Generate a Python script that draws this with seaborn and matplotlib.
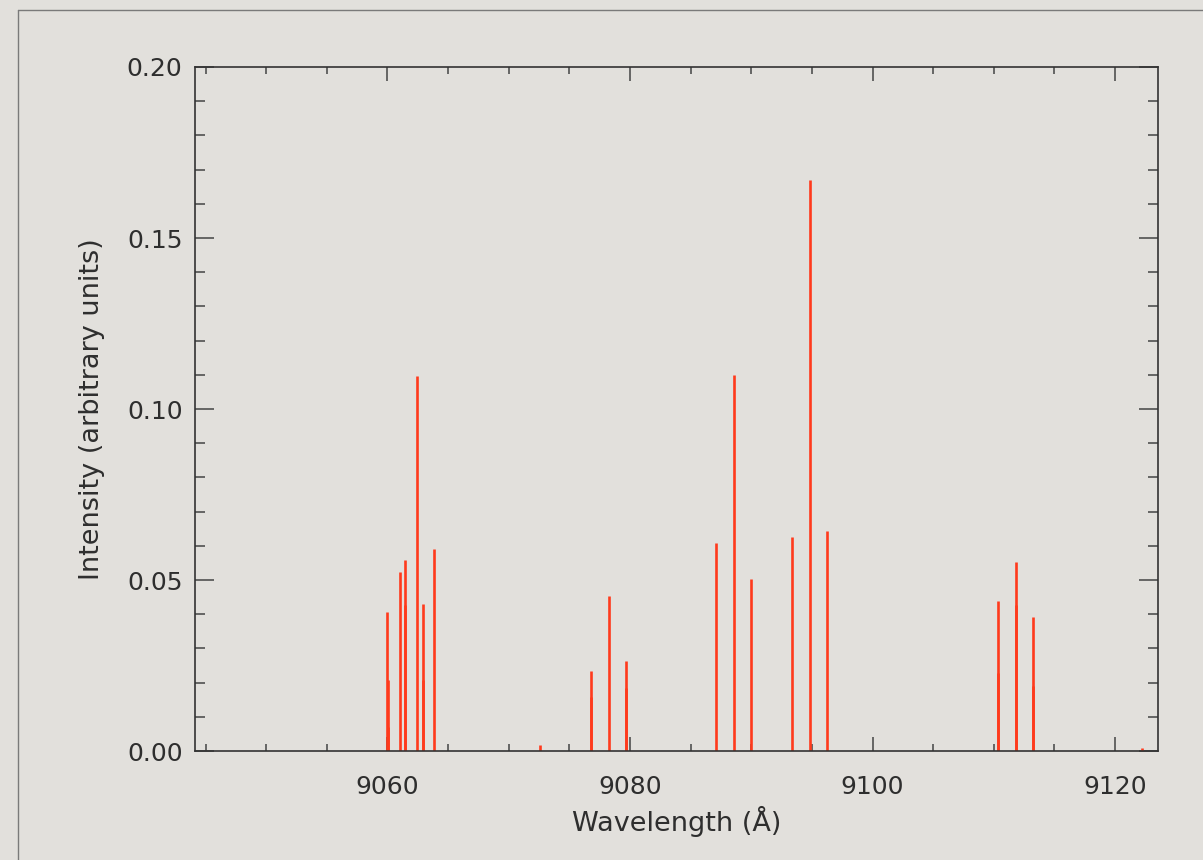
import numpy as np
import pandas as pd
import matplotlib
matplotlib.use('Agg')
import matplotlib.pyplot as plt
from matplotlib.ticker import MultipleLocator
from matplotlib.lines import Line2D
import seaborn as sns

# line list (wavelength in A, intensity in arbitrary units)
# blended lines appear as two entries with nearly the same wavelength
wavelength = [9060.00, 9060.03, 9060.05,
              9061.07,
              9061.45, 9061.48,
              9062.47,
              9062.90, 9062.93,
              9063.86,
              9072.58,
              9076.80, 9076.77,
              9078.24,
              9079.67, 9079.70,
              9087.09, 9088.55, 9089.95, 9093.36, 9094.85, 9096.25,
              9110.35, 9110.32,
              9111.81, 9111.84,
              9113.26, 9113.23,
              9122.20]
intensity = [0.0406, 0.0207, 0.0070,
             0.0523,
             0.0558, 0.0427,
             0.1097,
             0.0430, 0.0208,
             0.0590,
             0.0018,
             0.0235, 0.0159,
             0.0454,
             0.0264, 0.0184,
             0.0607, 0.1098, 0.0502, 0.0626, 0.1670, 0.0643,
             0.0440, 0.0228,
             0.0553, 0.0427,
             0.0393, 0.0191,
             0.0008]

x_ticks = [9060, 9080, 9100, 9120]
y_ticks = [0.00, 0.05, 0.10, 0.15, 0.20]

lines = pd.DataFrame({'wavelength': wavelength, 'intensity': intensity})

bg = '#e2e0dc'
ink = '#2e2e2e'
sns.set_theme(style='ticks', rc={'figure.facecolor': bg, 'axes.facecolor': bg,
                                 'axes.edgecolor': '#333333', 'axes.linewidth': 1.2})
plt.rcParams['font.family'] = ['DejaVu Sans']

fig = plt.figure(figsize=(12.03, 8.6), dpi=100)
ax = fig.add_axes([0.1621, 0.1267, 0.9629 - 0.1621, 0.9221 - 0.1267])

ax.vlines(lines['wavelength'], 0, lines['intensity'], color='#ff3a1c', linewidth=1.9)

ax.set_xlim(9044.13, 9123.57)
ax.set_ylim(0, 0.20)
ax.set_xticks(x_ticks)
ax.set_yticks(y_ticks)
ax.set_yticklabels([f'{v:.2f}' for v in y_ticks])
ax.xaxis.set_minor_locator(MultipleLocator(5))
ax.yaxis.set_minor_locator(MultipleLocator(0.01))

ax.tick_params(axis='x', which='major', direction='in', top=True, length=10, width=1.1,
               color='#444444', labelsize=18, labelcolor=ink, pad=17)
ax.tick_params(axis='x', which='minor', direction='in', top=True, length=5, width=1.1,
               color='#444444')
ax.tick_params(axis='y', which='major', direction='in', right=True, length=14, width=1.1,
               color='#444444', labelsize=18, labelcolor=ink, pad=9)
ax.tick_params(axis='y', which='minor', direction='in', right=True, length=7, width=1.1,
               color='#444444')

ax.set_xlabel('Wavelength (Å)', fontsize=19.5, color=ink, labelpad=5)
ax.set_ylabel('Intensity (arbitrary units)', fontsize=19.5, color=ink, labelpad=16)

# thin frame around the page, as in the reference screenshot
fig.add_artist(Line2D([18 / 1203, 18 / 1203], [0, 1 - 10 / 860], transform=fig.transFigure,
                      color='#7a7a7a', linewidth=1.0))
fig.add_artist(Line2D([18 / 1203, 1], [1 - 10 / 860, 1 - 10 / 860], transform=fig.transFigure,
                      color='#7a7a7a', linewidth=1.0))

fig.savefig('out.png', dpi=100, facecolor=bg)
